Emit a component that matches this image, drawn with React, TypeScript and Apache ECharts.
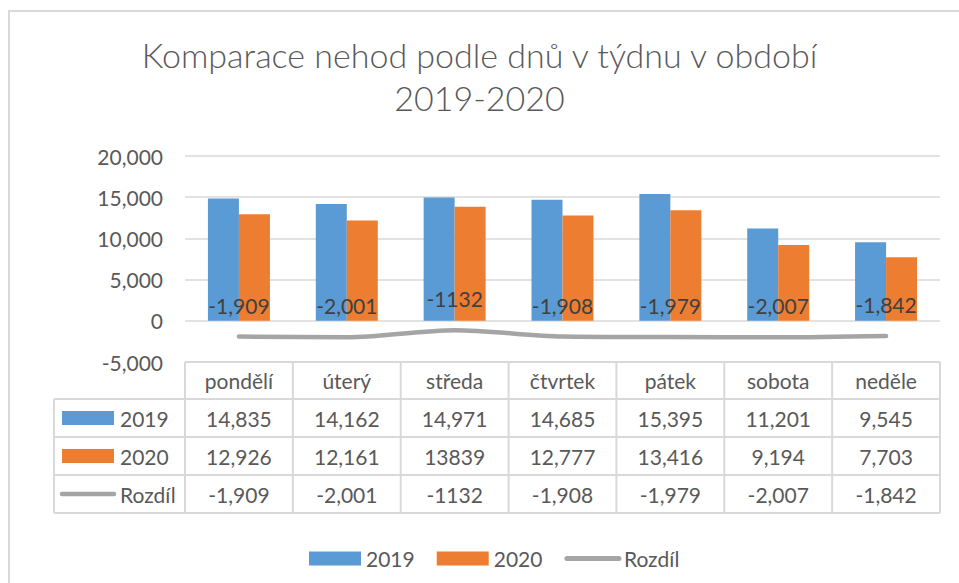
import React, { useEffect, useRef } from "react";
import * as echarts from "echarts";

const days = ["pondělí", "úterý", "středa", "čtvrtek", "pátek", "sobota", "neděle"];
const v2019 = [14835, 14162, 14971, 14685, 15395, 11201, 9545];
const v2020 = [12926, 12161, 13839, 12777, 13416, 9194, 7703];
const diff = [-1909, -2001, -1132, -1908, -1979, -2007, -1842];
const t2019 = ["14,835", "14,162", "14,971", "14,685", "15,395", "11,201", "9,545"];
const t2020 = ["12,926", "12,161", "13839", "12,777", "13,416", "9,194", "7,703"];
const tDiff = ["-1,909", "-2,001", "-1132", "-1,908", "-1,979", "-2,007", "-1,842"];
const seriesNames = ["2019", "2020", "Rozdíl"];
const yMin = -5000;
const yMax = 20000;
const yStep = 5000;

const BLUE = "#5B9BD5";
const ORANGE = "#ED7D31";
const GRAY = "#A5A5A5";
const TXT = "#595959";
const GRID = "#D9D9D9";
const FONT = "Lato";

export default function App() {
  const ref = useRef<HTMLDivElement>(null);
  useEffect(() => {
    if (!ref.current) return;
    const chart = echarts.init(ref.current, undefined, { renderer: "svg" });
    chart.setOption({
      animation: false,
      textStyle: { fontFamily: FONT },
      title: {
        text: "Komparace nehod podle dnů v týdnu v období\n2019-2020",
        left: "center",
        top: 28,
        padding: 5,
        textStyle: { fontFamily: FONT, fontWeight: 300, fontSize: 34, lineHeight: 43, color: TXT },
      },
      grid: { left: 185, right: 19, top: 156, bottom: 221 },
      legend: {
        left: 304,
        top: 543,
        itemWidth: 52,
        itemHeight: 14,
        itemGap: 22,
        textStyle: { fontFamily: FONT, fontSize: 21, color: TXT },
        data: [
          { name: seriesNames[0], icon: "rect" },
          { name: seriesNames[1], icon: "rect" },
          {
            name: seriesNames[2],
            itemStyle: { opacity: 0 },
            lineStyle: { color: GRAY, width: 5, cap: "round", opacity: 1 },
          },
        ],
      },
      xAxis: {
        type: "category",
        data: days,
        axisLine: { show: false },
        axisTick: { show: false },
        axisLabel: { show: false },
      },
      yAxis: {
        type: "value",
        min: yMin,
        max: yMax,
        interval: yStep,
        axisLine: { show: false },
        axisTick: { show: false },
        splitLine: { lineStyle: { color: GRID, width: 1.5 } },
        axisLabel: {
          fontFamily: FONT,
          fontSize: 21,
          color: TXT,
          margin: 22,
          formatter: (v: number) => v.toLocaleString("en-US"),
        },
      },
      series: [
        {
          name: seriesNames[0],
          type: "bar",
          data: v2019,
          barWidth: 31,
          barGap: "0%",
          itemStyle: { color: BLUE },
        },
        {
          name: seriesNames[1],
          type: "bar",
          data: v2020,
          barWidth: 31,
          barGap: "0%",
          itemStyle: { color: ORANGE },
        },
        {
          name: seriesNames[2],
          type: "line",
          data: diff,
          smooth: 0.3,
          symbol: "circle",
          symbolSize: 0,
          showSymbol: true,
          lineStyle: { color: GRAY, width: 4.5, cap: "round" },
          itemStyle: { color: GRAY },
          z: 5,
          label: {
            show: true,
            position: "top",
            distance: 21,
            fontFamily: FONT,
            fontSize: 21,
            color: "#404040",
            formatter: (p: any) => tDiff[p.dataIndex],
          },
        },
      ],
    });

    // data table built from axis scale positions
    const c0 = chart.convertToPixel({ xAxisIndex: 0 }, 0) as number;
    const c1 = chart.convertToPixel({ xAxisIndex: 0 }, 1) as number;
    const cw = c1 - c0;
    const centers = days.map((_, i) => chart.convertToPixel({ xAxisIndex: 0 }, i) as number);
    const xLeft = centers[0] - cw / 2;
    const xRight = centers[centers.length - 1] + cw / 2;
    const y0 = Math.round(chart.convertToPixel({ yAxisIndex: 0 }, yMin) as number);
    const headH = 37;
    const rowH = 38;
    const legendColLeft = 54;
    const rowsY = [y0 + headH, y0 + headH + rowH, y0 + headH + 2 * rowH, y0 + headH + 3 * rowH];
    const els: any[] = [];
    const lineStyle = { stroke: GRID, lineWidth: 2 };
    els.push({ type: "line", shape: { x1: xLeft, y1: y0, x2: xRight, y2: y0 }, style: lineStyle });
    rowsY.forEach((y) =>
      els.push({ type: "line", shape: { x1: legendColLeft, y1: y, x2: xRight, y2: y }, style: lineStyle })
    );
    els.push({ type: "line", shape: { x1: legendColLeft, y1: rowsY[0], x2: legendColLeft, y2: rowsY[3] }, style: lineStyle });
    for (let i = 0; i <= days.length; i++) {
      const x = xLeft + i * cw;
      els.push({ type: "line", shape: { x1: x, y1: y0, x2: x, y2: rowsY[3] }, style: lineStyle });
    }
    const txt = (x: number, y: number, s: string, align = "center") => ({
      type: "text",
      x,
      y,
      style: { text: s, fill: TXT, fontFamily: FONT, fontSize: 21, align, verticalAlign: "middle" },
    });
    days.forEach((d, i) => els.push(txt(centers[i], y0 + headH / 2, d)));
    const rows = [t2019, t2020, tDiff];
    rows.forEach((r, ri) => {
      const yc = rowsY[ri] + rowH / 2;
      r.forEach((s, i) => els.push(txt(centers[i], yc, s)));
    });
    // legend keys inside table
    const k0 = rowsY[0] + rowH / 2;
    const k1 = rowsY[1] + rowH / 2;
    const k2 = rowsY[2] + rowH / 2;
    els.push({ type: "rect", shape: { x: 62, y: k0 - 7, width: 52, height: 14 }, style: { fill: BLUE } });
    els.push(txt(120, k0, seriesNames[0], "left"));
    els.push({ type: "rect", shape: { x: 62, y: k1 - 7, width: 52, height: 14 }, style: { fill: ORANGE } });
    els.push(txt(120, k1, seriesNames[1], "left"));
    els.push({
      type: "line",
      shape: { x1: 62, y1: k2, x2: 114, y2: k2 },
      style: { stroke: GRAY, lineWidth: 4.5, lineCap: "round" },
    });
    els.push(txt(120, k2, seriesNames[2], "left"));
    // outer chart border
    els.push({
      type: "rect",
      shape: { x: 9, y: 11, width: 1000, height: 700 },
      style: { fill: "none", stroke: GRID, lineWidth: 2 },
      silent: true,
    });
    chart.setOption({ graphic: { elements: els } });

    return () => chart.dispose();
  }, []);
  return (
    <div
      ref={ref}
      style={{ position: "fixed", left: 0, top: 0, width: 959, height: 583, background: "#fff" }}
    />
  );
}
